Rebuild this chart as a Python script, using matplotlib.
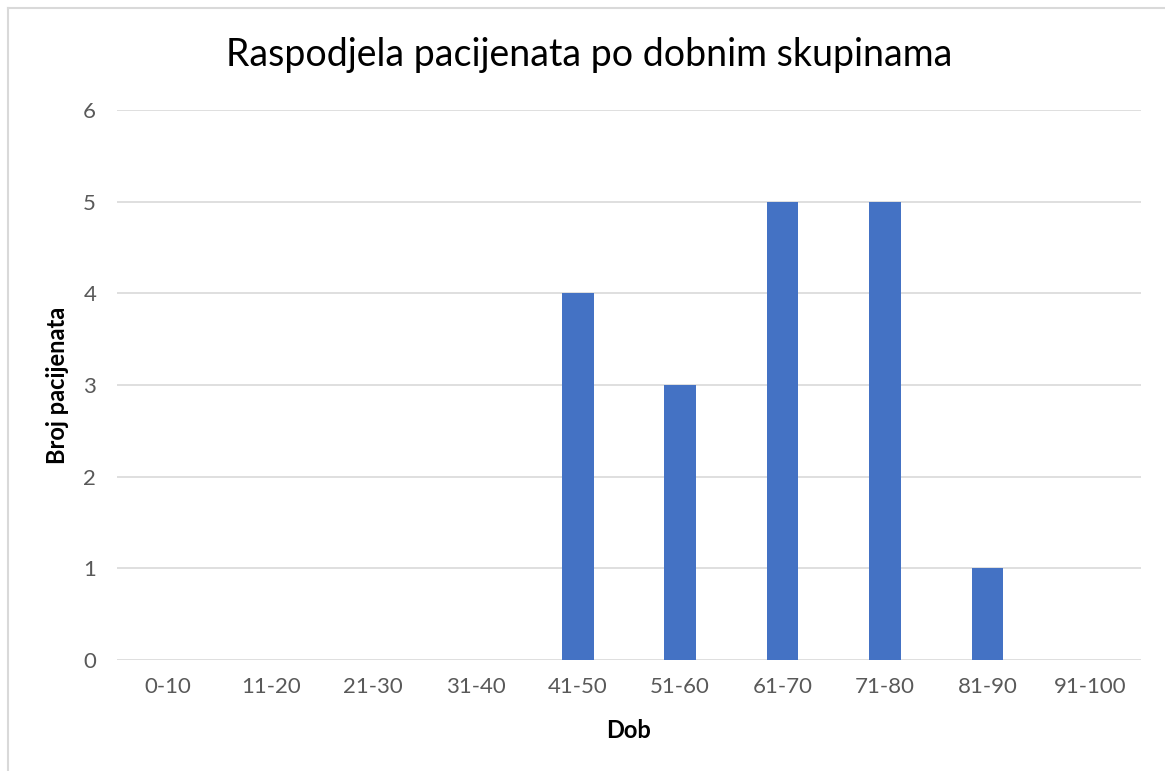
import matplotlib.pyplot as plt
from matplotlib.lines import Line2D

categories = ["0-10", "11-20", "21-30", "31-40", "41-50", "51-60",
              "61-70", "71-80", "81-90", "91-100"]
counts = [0, 0, 0, 0, 4, 3, 5, 5, 1, 0]

plt.rcParams['font.family'] = ['Lato', 'DejaVu Sans']

fig = plt.figure(figsize=(11.65, 7.71), dpi=100)
ax = fig.add_axes([117/1165, 1 - 660/771, (1141 - 117)/1165, (660 - 110)/771])

ax.bar(range(len(categories)), counts, width=0.31, color="#4472c4", zorder=3)

ax.set_xlim(-0.5, len(categories) - 0.5)
ax.set_ylim(0, 6)
ax.set_yticks(range(0, 7))
ax.set_xticks(range(len(categories)))
ax.set_xticklabels(categories)
ax.grid(axis="y", color="#d9d9d9", linewidth=1.2, zorder=0)
for s in ax.spines.values():
    s.set_visible(False)
ax.tick_params(length=0, labelsize=16, colors="#595959", pad=12)
ax.tick_params(axis="y", pad=15)

ax.set_xlabel("Dob", fontsize=17, fontweight="bold", labelpad=16)
ax.set_ylabel("Broj pacijenata", fontsize=17, fontweight="bold", labelpad=10)

fig.text(589/1165, 1 - 55/771, "Raspodjela pacijenata po dobnim skupinama",
         ha="center", va="center", fontsize=27, color="black")

# chart frame (left and top edges visible)
fig.add_artist(Line2D([8/1165, 8/1165], [0, 1 - 8/771], color="#d9d9d9", lw=1.5))
fig.add_artist(Line2D([8/1165, 1], [1 - 8/771, 1 - 8/771], color="#d9d9d9", lw=1.5))

fig.savefig("out.png", dpi=100)
